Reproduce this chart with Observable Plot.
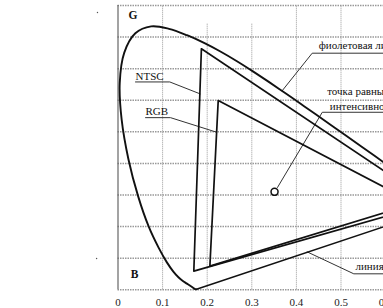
<!DOCTYPE html>
<html><head><meta charset="utf-8">
<script src="https://cdn.jsdelivr.net/npm/d3@7"></script>
<script src="https://cdn.jsdelivr.net/npm/@observablehq/plot@0.6"></script>
<style>html,body{margin:0;padding:0;background:#fff;overflow:hidden;width:383px;height:308px}
svg text{font-family:"Liberation Serif","DejaVu Serif",serif !important}</style>
</head><body><div id="chart"></div>
<script>
// Spectral locus (CIE 1931 xy), 380..700 nm
const locusX = [0.1760,0.1752,0.1745,0.1738,0.1733,0.1730,0.1726,0.1721,0.1714,0.1703,0.1689,0.1669,0.1644,0.1611,0.1566,0.1510,0.1440,0.1355,0.1241,0.1096,0.0913,0.0687,0.0454,0.0235,0.0082,0.0039,0.0139,0.0389,0.0743,0.1142,0.1547,0.1929,0.2296,0.2658,0.3016,0.3373,0.3731,0.4087,0.4441,0.4788,0.5125,0.5448,0.5752,0.6029,0.6270,0.6482,0.6658,0.6915,0.7079,0.7190,0.7260,0.7300,0.7334,0.7347];
const locusY = [0.0015,0.0015,0.0016,0.0017,0.0018,0.0020,0.0023,0.0028,0.0034,0.0045,0.0060,0.0080,0.0105,0.0135,0.0177,0.0227,0.0297,0.0399,0.0578,0.0868,0.1327,0.2007,0.2950,0.4127,0.5384,0.6548,0.7502,0.8120,0.8338,0.8262,0.8059,0.7816,0.7543,0.7243,0.6923,0.6589,0.6245,0.5896,0.5547,0.5202,0.4866,0.4544,0.4242,0.3965,0.3725,0.3514,0.3340,0.3083,0.2920,0.2809,0.2740,0.2700,0.2666,0.2653];
// Purple line
const purpleX = [0.1760, 0.7347];
const purpleY = [0.0015, 0.2653];
// Gamut triangles (G, B, R, G)
const ntscX = [0.187, 0.170, 0.704, 0.187];
const ntscY = [0.763, 0.059, 0.2745, 0.763];
const rgbX = [0.2247, 0.206, 0.666, 0.2247];
const rgbY = [0.599, 0.075, 0.274, 0.599];
// Equal-intensity point
const eqX = [0.351];
const eqY = [0.310];
// Grid / ticks
const xTicks = [0, 0.1, 0.2, 0.3, 0.4, 0.5, 0.6];
const xTickLabels = ["0", "0.1", "0.2", "0.3", "0.4", "0.5", "0.6"];
const xGridTop = [0.9, 0.9, 0.843, 0.843, 0.9, 0.9, 0.9];
const yTicks = [0, 0.1, 0.2, 0.3, 0.4, 0.5, 0.6, 0.7, 0.8, 0.9];
// Labels
const labelText = ["NTSC", "RGB", "фиолетовая линия", "точка равных", "интенсивностей", "линия пурпурных цветов"];
const labelX = [0.0392, 0.0617, 0.450, 0.469, 0.475, 0.5325];
const labelY = [0.665, 0.553, 0.762, 0.617, 0.570, 0.0627];
const cornerText = ["G", "B"];
const cornerX = [0.0336, 0.037];
const cornerY = [0.870, 0.0506];
// Leader lines
const leaders = [
  {x: [0.0392, 0.1161, 0.184], y: [0.658, 0.658, 0.6203]},
  {x: [0.0617, 0.1177, 0.221], y: [0.545, 0.545, 0.4989]},
  {x: [0.368, 0.4354, 0.62], y: [0.630, 0.749, 0.749]},
  {x: [0.3576, 0.458, 0.62], y: [0.324, 0.562, 0.562]},
  {x: [0.4242, 0.5287, 0.62], y: [0.120, 0.0506, 0.0506]}
];
// stray specks at left
const speckX = [-0.046, -0.048];
const speckY = [0.878, 0.099];

const pts = (xs, ys) => xs.map((x, i) => ({x, y: ys[i]}));
const font = '"Liberation Serif", "DejaVu Serif", serif';

const leaderMarks = leaders.map(l => Plot.line(pts(l.x, l.y), {x: "x", y: "y", stroke: "#333", strokeWidth: 1}));

const chart = Plot.plot({
  width: 383, height: 308,
  marginTop: 5, marginBottom: 18.7, marginLeft: 117.5, marginRight: 0,
  x: {domain: [0, 0.6], range: [117.5, 385.1], label: null},
  y: {domain: [0, 0.9], range: [289.3, 5], axis: null, label: null},
  style: {background: "white", overflow: "hidden", fontFamily: font},
  marks: [
    Plot.ruleY(yTicks, {x1: 0, x2: 0.62, stroke: "#999", strokeWidth: 1.5, strokeDasharray: "1.5,1"}),
    Plot.ruleX(xTicks.slice(1), {y1: 0, y2: (d, i) => xGridTop[i + 1], stroke: "#999", strokeWidth: 1, strokeDasharray: "1,1"}),
    Plot.ruleX([0], {y1: 0, y2: 0.9, stroke: "#666", strokeWidth: 1.2}),
    Plot.axisX(xTicks, {tickSize: 0, tickPadding: 8, fontSize: 11, fontFamily: font, fill: "#222", label: null,
      tickFormat: d => xTickLabels[xTicks.indexOf(d)]}),
    ...leaderMarks,
    Plot.line(pts(locusX, locusY), {x: "x", y: "y", curve: "catmull-rom", stroke: "#111", strokeWidth: 1.9}),
    Plot.line(pts(purpleX, purpleY), {x: "x", y: "y", stroke: "#111", strokeWidth: 1.5}),
    Plot.line(pts(ntscX, ntscY), {x: "x", y: "y", stroke: "#111", strokeWidth: 1.7}),
    Plot.line(pts(rgbX, rgbY), {x: "x", y: "y", stroke: "#111", strokeWidth: 1.7}),
    Plot.dot(pts(eqX, eqY), {x: "x", y: "y", r: 3.5, stroke: "#111", strokeWidth: 1.5, fill: "white"}),
    Plot.text(labelText, {x: (d, i) => labelX[i], y: (d, i) => labelY[i], text: d => d, textAnchor: "start", lineAnchor: "bottom", fontSize: 11, fontFamily: font, fill: "#111"}),
    Plot.text(cornerText, {x: (d, i) => cornerX[i], y: (d, i) => cornerY[i], text: d => d, textAnchor: "middle", lineAnchor: "middle", fontSize: 11.5, fontWeight: "bold", fontFamily: font, fill: "#111"}),
    Plot.dot(pts(speckX, speckY), {x: "x", y: "y", r: 0.7, fill: "#555", stroke: null})
  ]
});
document.getElementById("chart").appendChild(chart);
</script>
</body></html>
